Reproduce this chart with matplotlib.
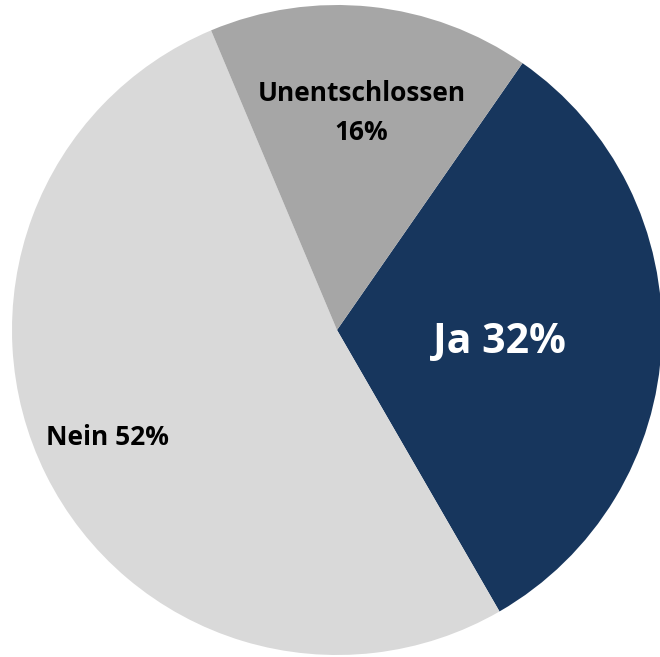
import matplotlib
matplotlib.use("Agg")
import matplotlib.pyplot as plt

labels = ["Ja 32%", "Nein 52%", "Unentschlossen\n16%"]
shares = [32, 52, 16]
colors = ["#17365D", "#D9D9D9", "#A6A6A6"]

plt.rcParams['font.family'] = ['Open Sans', 'DejaVu Sans']

fig = plt.figure(figsize=(6.6, 6.57), dpi=100)
ax = fig.add_axes([0, 0, 1, 1])

wedges, _ = ax.pie(shares, colors=colors, startangle=55.2, counterclock=False,
                   radius=1.0, wedgeprops=dict(linewidth=0))

# label positions in data units (radius = 1)
ax.text(0.50, -0.04, labels[0], ha="center", va="center", color="white",
        fontsize=29.5, fontweight="bold")
ax.text(-0.705, -0.33, labels[1], ha="center", va="center", color="black",
        fontsize=19, fontweight="bold")
ax.text(0.075, 0.668, labels[2], ha="center", va="center", color="black",
        fontsize=19, fontweight="bold", linespacing=1.55)

ax.set_aspect("auto")
ax.set_xlim(-337 / 325, (660 - 337) / 325)
ax.set_ylim((330 - 657) / 325, 330 / 325)
ax.axis("off")

fig.savefig("out.png", dpi=100)
